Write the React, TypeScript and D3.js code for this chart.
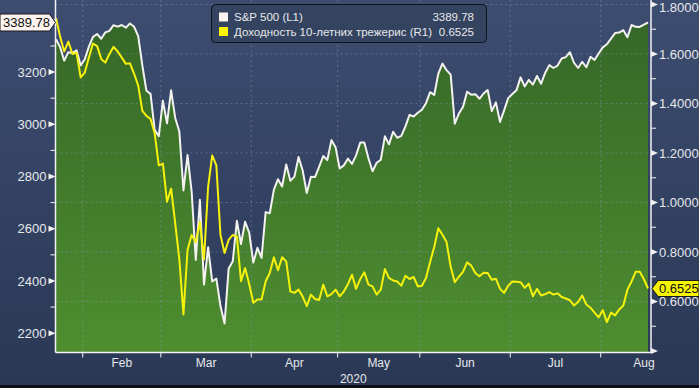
import * as d3 from "d3";

// S&P 500 daily closes, Jan 23 – Aug 18 2020 (left axis)
const spx = [
  3325.5, 3295.5, 3243.6, 3276.2, 3273.4, 3283.7, 3225.5,
  3248.9, 3297.6, 3334.7, 3345.8, 3327.7, 3352.1, 3357.8, 3379.5, 3373.9, 3380.2, 3370.3, 3386.2, 3373.2, 3337.8,
  3225.9, 3128.2, 3116.4, 2978.8, 2954.2,
  3090.2, 3003.4, 3130.1, 3023.9, 2972.4, 2746.6, 2882.2, 2741.4, 2480.6, 2711.0, 2386.1, 2529.2, 2398.1, 2409.4,
  2304.9, 2237.4, 2447.3, 2475.6, 2630.1, 2541.5, 2626.7, 2584.6,
  2470.5, 2526.9, 2488.7, 2663.7, 2659.4, 2750.0, 2789.8, 2761.6, 2846.1, 2783.4, 2799.6, 2874.6, 2823.2, 2736.6,
  2799.3, 2797.8, 2836.7, 2878.5, 2863.4, 2939.5, 2912.4,
  2830.7, 2842.7, 2868.4, 2848.4, 2881.2, 2929.8, 2930.3, 2870.1, 2820.0, 2852.5, 2863.7, 2953.9, 2922.9, 2971.6,
  2948.5, 2955.5, 2991.8, 3036.1, 3029.7, 3044.3,
  3055.7, 3080.8, 3122.9, 3112.4, 3193.9, 3232.4, 3207.2, 3190.1, 3002.1, 3041.3, 3066.6, 3124.7, 3113.5, 3115.3,
  3097.7, 3117.9, 3131.3, 3050.3, 3083.8, 3009.1, 3053.2, 3100.3,
  3115.9, 3130.0, 3179.7, 3145.3, 3169.9, 3152.1, 3185.0, 3155.2, 3197.5, 3226.6, 3215.6, 3224.7, 3251.8, 3257.3,
  3276.0, 3235.7, 3215.6, 3239.4, 3218.4, 3258.4, 3246.2, 3271.1,
  3294.6, 3306.5, 3327.8, 3349.2, 3351.3, 3360.5, 3333.7, 3380.4, 3373.4, 3372.9, 3382.0, 3389.78,
];

// 10-year Treasury yield, same days (right axis)
const ust10 = [
  1.745, 1.67, 1.61, 1.65, 1.6, 1.605, 1.505,
  1.525, 1.586, 1.642, 1.632, 1.58, 1.565, 1.6, 1.629, 1.61, 1.585, 1.56, 1.562, 1.52, 1.472,
  1.37, 1.35, 1.337, 1.28, 1.15,
  1.157, 1.003, 1.056, 0.916, 0.77, 0.548, 0.809, 0.869, 0.84, 0.92, 0.77, 1.063, 1.19, 1.15,
  0.87, 0.796, 0.849, 0.869, 0.862, 0.682, 0.735, 0.67,
  0.595, 0.608, 0.608, 0.682, 0.715, 0.779, 0.726, 0.779, 0.762, 0.641, 0.635, 0.648, 0.62, 0.581,
  0.628, 0.61, 0.606, 0.668, 0.621, 0.63, 0.648,
  0.621, 0.64, 0.67, 0.708, 0.651, 0.69, 0.718, 0.668, 0.661, 0.628, 0.648, 0.731, 0.695, 0.685,
  0.681, 0.664, 0.704, 0.691, 0.699, 0.661,
  0.664, 0.695, 0.76, 0.82, 0.896, 0.87, 0.84, 0.74, 0.678, 0.7, 0.72, 0.758, 0.745, 0.715,
  0.702, 0.716, 0.715, 0.688, 0.692, 0.651, 0.635, 0.664,
  0.681, 0.68, 0.678, 0.655, 0.672, 0.621, 0.651, 0.624, 0.63, 0.638, 0.628, 0.633, 0.618, 0.612,
  0.605, 0.584, 0.598, 0.624, 0.588, 0.575, 0.555, 0.536,
  0.565, 0.517, 0.555, 0.544, 0.568, 0.584, 0.648, 0.681, 0.72, 0.72, 0.69, 0.6525,
];

const holidays = ["2020-02-17", "2020-04-10", "2020-05-25", "2020-07-03"];
const leftMajor = [2200, 2400, 2600, 2800, 3000, 3200, 3400];
const leftMinor = [2300, 2500, 2700, 2900, 3100, 3300];
const rightMajor = [0.4, 0.6, 0.8, 1.0, 1.2, 1.4, 1.6, 1.8];
const rightMinor = [0.5, 0.7, 0.9, 1.1, 1.3, 1.5, 1.7];
const legendLabels = ["S&P 500 (L1)", "Доходность 10-летних трежерис (R1)"];
const yearLabel = "2020";

const W = 699;
const H = 388;
const plot = { left: 55.5, right: 651, top: 0, bottom: 352.5 };
const font = "'Liberation Sans', Arial, sans-serif";
const txt = "#e6e8ec";

const fmtDay = d3.timeFormat("%Y-%m-%d");
const allDays = d3.timeDay
  .range(new Date(2020, 0, 23), new Date(2020, 8, 1))
  .filter((d) => d.getDay() % 6 !== 0 && !holidays.includes(fmtDay(d)));

export default function App() {
  const x = d3.scaleLinear().domain([0, spx.length - 1]).range([56, 648]);
  const yL = d3.scaleLinear().domain([2126, 3476]).range([plot.bottom, 0]);
  const yR = d3.scaleLinear().domain([0.394, 1.818]).range([plot.bottom, 0]);

  const months = d3
    .groups(
      allDays.map((d, i) => ({ d, i })),
      (o) => d3.timeFormat("%b")(o.d)
    )
    .map(([name, arr]) => ({ name, i0: arr[0].i, i1: arr[arr.length - 1].i }))
    .filter((m) => m.i0 > 0);

  const area = d3
    .area<number>()
    .x((_d, i) => x(i))
    .y0(plot.bottom)
    .y1((d) => yL(d));
  const lineL = d3
    .line<number>()
    .x((_d, i) => x(i))
    .y((d) => yL(d));
  const lineR = d3
    .line<number>()
    .x((_d, i) => x(i))
    .y((d) => yR(d));

  const lastL = spx[spx.length - 1];
  const lastR = ust10[ust10.length - 1];
  const tyL = yL(lastL);
  const tyR = yR(lastR);

  return (
    <svg
      width={W}
      height={H}
      style={{ position: "fixed", left: 0, top: 0, display: "block" }}
      fontFamily={font}
    >
      <defs>
        <linearGradient id="bg" x1="0" y1="0" x2="0" y2="1">
          <stop offset="0%" stopColor="#3d4d70" />
          <stop offset="100%" stopColor="#2a3855" />
        </linearGradient>
        <linearGradient id="green" gradientUnits="userSpaceOnUse" x1="0" y1="0" x2="0" y2={plot.bottom}>
          <stop offset="0%" stopColor="#346527" />
          <stop offset="100%" stopColor="#4e8e30" />
        </linearGradient>
        <clipPath id="clip">
          <rect x={plot.left} y={plot.top} width={plot.right - plot.left} height={plot.bottom - plot.top} />
        </clipPath>
      </defs>

      <rect width={W} height={H} fill="url(#bg)" />
      <rect y={H - 3} width={W} height={3} fill="#0b0f18" />

      <g clipPath="url(#clip)">
        <path d={area(spx) ?? ""} fill="url(#green)" />
        {rightMajor.slice(1).map((v) => (
          <line key={v} x1={plot.left} x2={plot.right} y1={yR(v)} y2={yR(v)}
            stroke="#8d9ab5" strokeOpacity={0.45} strokeDasharray="2,3" />
        ))}
        {months.map((m) => (
          <line key={m.name} x1={x(m.i0 - 0.5)} x2={x(m.i0 - 0.5)} y1={plot.top} y2={plot.bottom}
            stroke="#8d9ab5" strokeOpacity={0.45} strokeDasharray="2,3" />
        ))}
        <path d={lineL(spx) ?? ""} fill="none" stroke="#f4f2f0" strokeWidth={2} strokeLinejoin="round" />
        <path d={lineR(ust10) ?? ""} fill="none" stroke="#f6f20c" strokeWidth={2} strokeLinejoin="round" />
      </g>

      {/* left axis */}
      <line x1={plot.left} x2={plot.left} y1={0} y2={plot.bottom} stroke="#f2f2f2" strokeWidth={1.5} />
      {leftMinor.map((v) => (
        <line key={v} x1={plot.left - 5} x2={plot.left} y1={yL(v)} y2={yL(v)} stroke="#f2f2f2" />
      ))}
      {leftMajor.map((v) => (
        <g key={v} transform={`translate(${plot.left},${yL(v)})`}>
          <path d="M0,0 L-7,-3 L-7,3 Z" fill="#f2f2f2" />
          {Math.abs(yL(v) - tyL) > 14 && (
            <text x={-9} dy="0.35em" textAnchor="end" fontSize={13} fill={txt}>{v}</text>
          )}
        </g>
      ))}

      {/* right axis */}
      <line x1={plot.right} x2={plot.right} y1={0} y2={plot.bottom} stroke="#f2f2f2" strokeWidth={1.5} />
      {rightMinor.map((v) => (
        <line key={v} x1={plot.right} x2={plot.right + 5} y1={yR(v)} y2={yR(v)} stroke="#f2f2f2" />
      ))}
      {rightMajor.map((v) => (
        <g key={v} transform={`translate(${plot.right},${yR(v)})`}>
          <path d="M0,-3 L7,0 L0,3 Z" fill="#f2f2f2" />
          {v > 0.45 && (
            <text x={8} dy={v > 1.7 ? "0.6em" : "0.35em"} fontSize={13} fill={txt}>{d3.format(".4f")(v)}</text>
          )}
        </g>
      ))}

      {/* bottom axis */}
      <line x1={plot.left} x2={plot.right} y1={plot.bottom} y2={plot.bottom} stroke="#f2f2f2" strokeWidth={1.5} />
      {months.map((m) => (
        <line key={m.name} x1={x(m.i0 - 0.5)} x2={x(m.i0 - 0.5)} y1={plot.bottom} y2={plot.bottom + 5} stroke="#f2f2f2" />
      ))}
      {months.map((m) => (
        <text key={m.name} x={x((m.i0 + m.i1) / 2)} y={363} dy="0.35em" textAnchor="middle" fontSize={12} fill={txt}>
          {m.name}
        </text>
      ))}
      <text x={(plot.left + plot.right) / 2} y={379} dy="0.35em" textAnchor="middle" fontSize={12} fill={txt}>
        {yearLabel}
      </text>

      {/* last value tags */}
      <path
        d={`M0,${tyL - 8.5} H${plot.left - 6} L${plot.left},${tyL} L${plot.left - 6},${tyL + 8.5} H0 Z`}
        fill="#fdf3ee" stroke="#1a1a1a"
      />
      <text x={3} y={tyL} dy="0.36em" fontSize={13} fill="#111">{d3.format(".2f")(lastL)}</text>
      <path
        d={`M${plot.right + 1},${tyR} L${plot.right + 7},${tyR - 8} H${W} V${tyR + 8} H${plot.right + 7} Z`}
        fill="#f8f400" stroke="#1a1a1a"
      />
      <text x={plot.right + 8} y={tyR} dy="0.36em" fontSize={13} fill="#111">{d3.format(".4f")(lastR)}</text>

      {/* legend */}
      <rect x={211.5} y={4.5} width={275} height={38} rx={4} fill="#34435f" stroke="#0e121b" />
      <rect x={219} y={12.5} width={9} height={9} fill="#fdf3ee" />
      <rect x={219} y={27} width={9} height={9} fill="#f8f400" />
      <text x={234} y={17} dy="0.35em" fontSize={11.5} fill={txt}>{legendLabels[0]}</text>
      <text x={234} y={31.5} dy="0.35em" fontSize={11.5} fill={txt}>{legendLabels[1]}</text>
      <text x={474} y={17} dy="0.35em" textAnchor="end" fontSize={11.5} fill={txt}>{d3.format(".2f")(lastL)}</text>
      <text x={474} y={31.5} dy="0.35em" textAnchor="end" fontSize={11.5} fill={txt}>{d3.format(".4f")(lastR)}</text>
    </svg>
  );
}
